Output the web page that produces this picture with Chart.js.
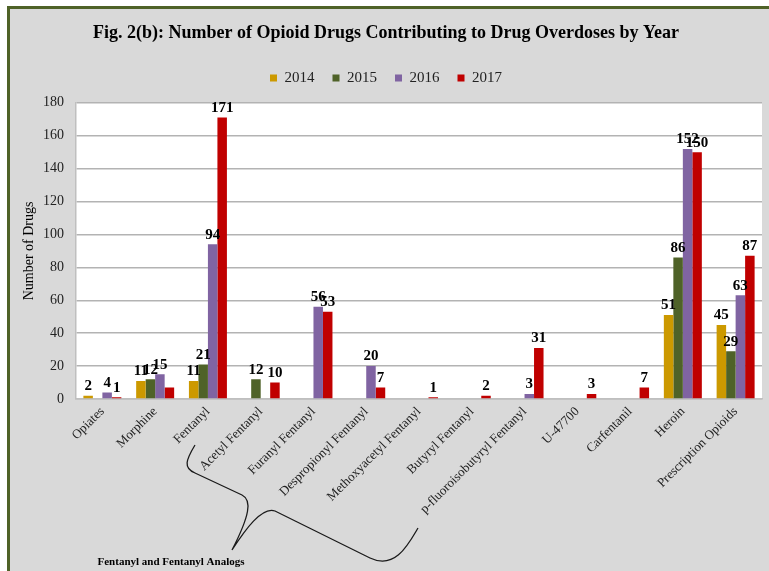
<!DOCTYPE html>
<html>
<head>
<meta charset="utf-8">
<script src="https://cdn.jsdelivr.net/npm/chart.js@4/dist/chart.umd.min.js"></script>
<style>
  html, body { margin: 0; padding: 0; background: #ffffff; }
  #c { display: block; }
</style>
</head>
<body>
<canvas id="c" width="769" height="571"></canvas>
<script>
// ---- data ----
const categories = [
  'Opiates', 'Morphine', 'Fentanyl', 'Acetyl Fentanyl', 'Furanyl Fentanyl',
  'Despropionyl Fentanyl', 'Methoxyacetyl Fentanyl', 'Butyryl Fentanyl',
  'p-fluoroisobutyryl Fentanyl', 'U-47700', 'Carfentanil', 'Heroin', 'Prescription Opioids'
];
const years = ['2014', '2015', '2016', '2017'];
const values2014 = [2, 11, 11, null, null, null, null, null, null, null, null, 51, 45];
const values2015 = [null, 12, 21, 12, null, null, null, null, null, null, null, 86, 29];
const values2016 = [4, 15, 94, null, 56, 20, null, null, 3, null, null, 152, 63];
const values2017 = [1, 7, 171, 10, 53, 7, 1, 2, 31, 3, 7, 150, 87];
// value labels that are not printed in the original (series index, category index)
const unlabelled = [[3, 1]];
const yTicks = [0, 20, 40, 60, 80, 100, 120, 140, 160, 180];
const chartTitle = 'Fig. 2(b): Number of Opioid Drugs Contributing to Drug Overdoses by Year';
const yTitle = 'Number of Drugs';
const groupNote = 'Fentanyl and Fentanyl Analogs';

const seriesColors = ['#cc9900', '#4f6228', '#8064a2', '#c00000'];
const serif = "'Liberation Serif', 'Times New Roman', serif";
Chart.defaults.font.family = serif;

const frame = {
  id: 'frame',
  beforeDraw(chart) {
    const ctx = chart.ctx, a = chart.chartArea;
    ctx.save();
    ctx.fillStyle = '#ffffff';
    ctx.fillRect(0, 0, chart.width, chart.height);
    ctx.fillStyle = '#d9d9d9';
    ctx.fillRect(10, 9, chart.width - 10, chart.height - 9);
    ctx.fillStyle = '#4f6228';
    ctx.fillRect(7, 6, chart.width - 7, 3);
    ctx.fillRect(7, 6, 3, chart.height - 6);
    ctx.fillStyle = '#ffffff';
    ctx.fillRect(a.left, a.top, a.right - a.left, a.bottom - a.top);
    ctx.restore();
  }
};

const valueLabels = {
  id: 'valueLabels',
  afterDatasetsDraw(chart) {
    const ctx = chart.ctx;
    ctx.save();
    ctx.font = 'bold 15px ' + serif;
    ctx.fillStyle = '#000';
    ctx.textAlign = 'center';
    ctx.textBaseline = 'bottom';
    chart.data.datasets.forEach((ds, i) => {
      const meta = chart.getDatasetMeta(i);
      meta.data.forEach((bar, j) => {
        const v = ds.data[j];
        if (v === null || v === 0) return;
        if (unlabelled.some(p => p[0] === i && p[1] === j)) return;
        ctx.fillText(String(v), bar.x, bar.y - 2);
      });
    });
    ctx.restore();
  }
};

const bracket = {
  id: 'bracket',
  afterDraw(chart) {
    const ctx = chart.ctx;
    ctx.save();
    ctx.strokeStyle = '#1a1a1a';
    ctx.lineWidth = 1.3;
    ctx.beginPath();
    ctx.moveTo(195, 445);
    ctx.bezierCurveTo(186, 460, 183, 468, 195, 473);
    ctx.lineTo(242, 495);
    ctx.bezierCurveTo(252, 500, 250, 515, 232, 550);
    ctx.bezierCurveTo(245, 530, 262, 506, 275, 511);
    ctx.lineTo(370, 558);
    ctx.bezierCurveTo(395, 570, 408, 545, 418, 528);
    ctx.stroke();
    ctx.font = 'bold 11px ' + serif;
    ctx.fillStyle = '#000';
    ctx.textAlign = 'center';
    ctx.textBaseline = 'middle';
    ctx.fillText(groupNote, 171, 562);
    ctx.restore();
  }
};

const yearData = [values2014, values2015, values2016, values2017];

new Chart(document.getElementById('c'), {
  type: 'bar',
  data: {
    labels: categories,
    datasets: years.map((y, i) => ({
      label: y,
      data: yearData[i],
      backgroundColor: seriesColors[i],
      borderWidth: 0,
      categoryPercentage: 0.72,
      barPercentage: 1.0
    }))
  },
  options: {
    responsive: false,
    animation: false,
    devicePixelRatio: 1,
    layout: { padding: { left: 10, right: 7, top: 9, bottom: 0 } },
    plugins: {
      title: {
        display: true,
        text: chartTitle,
        color: '#000',
        font: { size: 18, weight: 'bold', family: serif },
        padding: { top: 14, bottom: 8 }
      },
      subtitle: {
        // blank spacer between the legend and the plot area
        display: true,
        text: ' ',
        position: 'top',
        weight: 500,
        font: { size: 1 },
        padding: { top: 0, bottom: 6 }
      },
      legend: {
        display: true,
        position: 'top',
        labels: {
          color: '#222',
          font: { size: 15, family: serif },
          boxWidth: 7,
          boxHeight: 7,
          padding: 18
        }
      },
      tooltip: { enabled: false }
    },
    scales: {
      x: {
        grid: { display: false, drawTicks: false },
        border: { display: true, color: '#bfbfbf', width: 1.5 },
        ticks: {
          color: '#222',
          font: { size: 13, family: serif },
          maxRotation: 45,
          minRotation: 45,
          autoSkip: false,
          padding: 5
        },
        afterFit(s) { s.height = 172; }
      },
      y: {
        min: 0,
        max: 180,
        afterBuildTicks(s) { s.ticks = yTicks.map(v => ({ value: v })); },
        grid: { color: '#b3b3b3', lineWidth: 1.5, drawTicks: false },
        border: { display: true, color: '#bfbfbf', width: 1.5 },
        ticks: {
          color: '#222',
          font: { size: 14, family: serif },
          padding: 12
        },
        title: {
          display: true,
          text: yTitle,
          color: '#000',
          font: { size: 14, family: serif },
          padding: { top: 11, bottom: 0 }
        },
        afterFit(s) { s.width = 66; }
      }
    }
  },
  plugins: [frame, valueLabels, bracket]
});
</script>
</body>
</html>
